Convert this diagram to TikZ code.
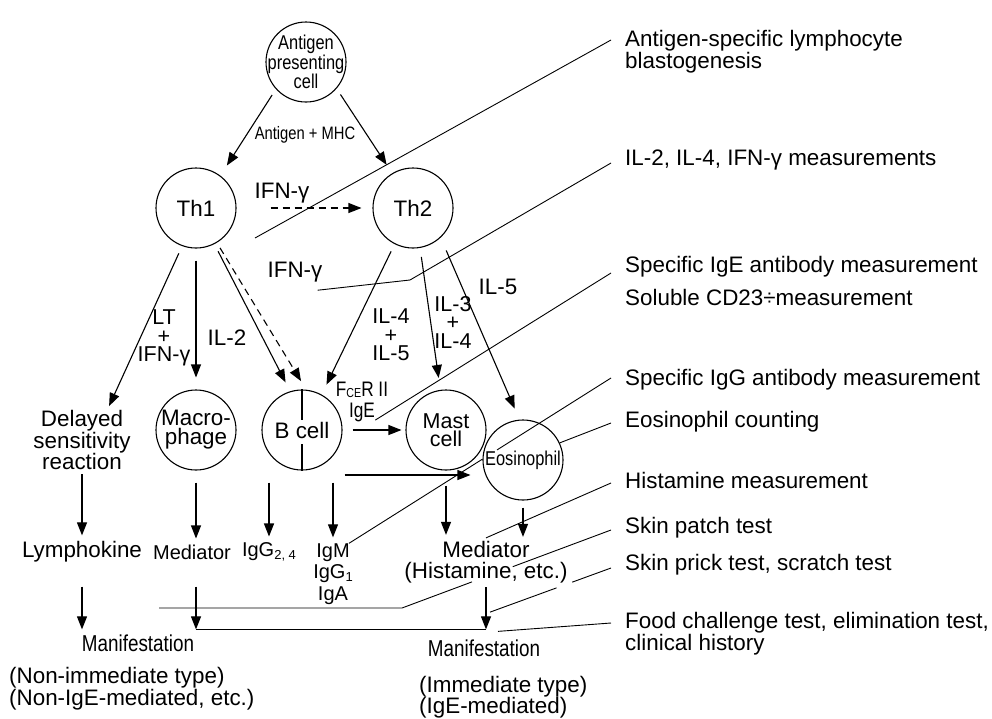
\documentclass[tikz,border=0pt]{standalone}
\usepackage{fontspec}
\setmainfont{Liberation Sans}
\newfontfamily\narrowfont[FakeStretch=0.82]{Liberation Sans}
\usetikzlibrary{arrows.meta,calc}
\newcommand{\bigf}{\fontsize{22.4}{21}\selectfont}
\newcommand{\midf}[1]{\fontsize{20}{#1}\selectfont}
\newcommand{\narf}[2]{\fontsize{#1}{#2}\narrowfont}
\newcommand{\lowsub}[1]{\raisebox{-3pt}{\fontsize{13}{13}\selectfont #1}}
\begin{document}
\begin{tikzpicture}[x=1pt,y=-1pt]
\tikzset{every node/.style={font=\bigf, inner sep=0pt},
  cellnode/.style={draw, circle, line width=1.1pt, minimum size=80pt, inner sep=-8pt, align=center},
  lbl/.style={align=center},
  side/.style={anchor=west, align=left},
  arr/.style={-{Triangle[length=13pt,width=10pt]}, line width=1.1pt},
  lead/.style={line width=0.9pt}}
\useasboundingbox (0,0) rectangle (992,718);

\node[cellnode, font=\narf{20}{17.5}] (apc) at (306,62) {Antigen\\presenting\\cell};
\node[cellnode] (th1) at (196,208) {Th1};
\node[cellnode] (th2) at (413,208) {Th2};
\node[cellnode, font=\fontsize{22.4}{19}\selectfont] (macro) at (196,430) {Macro-\\phage};
\node[cellnode] (bcell) at (302,430) {B cell};
\node[cellnode, font=\fontsize{21.5}{18.5}\selectfont] (mast) at (446,430) {Mast\\cell};
\node[cellnode, font=\narf{20}{20}] (eos) at (523,460) {Eosinophil};

\node[font=\narf{18}{18}] (agmhc) at (305,135) {Antigen + MHC};
\node (ifna) at (282,193) {IFN-γ};
\node (ifnb) at (295,272) {IFN-γ};
\node[lbl, font=\fontsize{21.5}{18.5}\selectfont] (lt) at (164,338) {LT\\+\\IFN-γ};
\node (il2) at (227,338) {IL-2};
\node[lbl, font=\fontsize{21.5}{18.5}\selectfont] (il45) at (391,335) {IL-4\\+\\IL-5};
\node[lbl, font=\fontsize{21.5}{18.5}\selectfont] (il34) at (453,322) {IL-3\\+\\IL-4};
\node (il5) at (498,287) {IL-5};
\node[lbl, font=\fontsize{22.4}{20.5}\selectfont] (delayed) at (82,440) {Delayed\\sensitivity\\reaction};
\node[lbl, font=\narf{21}{21}] (fcer) at (362,402) {F\raisebox{-1pt}{\fontsize{13}{13}\selectfont CE}R II\\IgE};

\node (lymph) at (82,552) {Lymphokine};
\node[font=\midf{20}] (medl) at (192,552) {Mediator};
\node[font=\midf{20}] (igg24) at (269,552) {IgG\lowsub{2, 4}};
\node[lbl, font=\midf{21.5}] (igm) at (333,574) {IgM\\IgG\lowsub{1}\\IgA};
\node[lbl] (medr) at (486,562) {Mediator\\(Histamine, etc.)};
\node[font=\narf{23}{23}] (manl) at (138,643) {Manifestation};
\node[font=\narf{23}{23}] (manr) at (484,648) {Manifestation};
\node[side, font=\fontsize{22.4}{22}\selectfont] (nonimm) at (9,689) {(Non-immediate type)\\(Non-IgE-mediated, etc.)};
\node[side] (imm) at (419,697) {(Immediate type)\\(IgE-mediated)};

\node[side, font=\fontsize{22.4}{20}\selectfont] (r1) at (625,52) {Antigen-specific lymphocyte\\blastogenesis};
\node[side] (r2) at (625,160) {IL-2, IL-4, IFN-γ measurements};
\node[side] (r3) at (625,267) {Specific IgE antibody measurement};
\node[side] (r4) at (625,297) {Soluble CD23÷measurement};
\node[side] (r5) at (625,380) {Specific IgG antibody measurement};
\node[side] (r6) at (625,422) {Eosinophil counting};
\node[side] (r7) at (625,480) {Histamine measurement};
\node[side] (r8) at (625,528) {Skin patch test};
\node[side] (r9) at (625,565) {Skin prick test, scratch test};
\node[side, font=\fontsize{22.4}{22}\selectfont] (r10) at (625,634) {Food challenge test, elimination test,\\clinical history};

\draw[line width=1.1pt] (bcell.north) -- ++(0,31);
\draw[line width=1.1pt] (bcell.south) -- ++(0,-27);

\draw[arr, shorten <=7pt, shorten >=12pt] (apc.222) -- (th1.53);
\draw[arr, shorten <=7pt, shorten >=10pt] (apc.319) -- (th2.121);
\draw[arr, dash pattern=on 7pt off 5pt, shorten <=34pt, shorten >=11pt] (th1) -- (th2);
\draw[arr, shorten <=8pt, shorten >=4pt] (th1.250) -- (delayed.50);
\draw[arr, shorten <=12pt, shorten >=12pt] (th1) -- (macro);
\draw[arr, shorten <=8pt, shorten >=10pt] (th1.297) -- (bcell.107);
\draw[arr, dash pattern=on 7pt off 5pt, shorten <=6pt, shorten >=10pt] (th1.301) -- (bcell.84);
\draw[arr, shorten <=8pt, shorten >=11pt] (th2.243) -- (bcell.61);
\draw[arr, shorten <=9pt, shorten >=12pt] (th2.280) -- (mast.98);
\draw[arr, shorten <=14pt, shorten >=12pt] (th2.313) -- (eos.95);
\draw[arr, shorten <=10pt, shorten >=4pt] (bcell) -- (mast);
\draw[arr] ($(bcell.east)+(2,45)$) -- ($(eos.west)+(-12,15)$);

\draw[arr, shorten <=4pt, shorten >=6pt] (delayed) -- (lymph);
\draw[arr, shorten <=12pt, shorten >=6pt] (macro.south) -- (macro.south |- medl.north);
\draw[arr, shorten >=6pt] ($(igg24.north |- bcell.south)+(0,12)$) -- (igg24.north);
\draw[arr, shorten >=6pt] ($(igm.north |- bcell.south)+(0,12)$) -- (igm.north);
\draw[arr, shorten <=15pt, shorten >=6pt] (mast.south) -- (mast.south |- medr.north);
\draw[arr, shorten <=7pt, shorten >=4pt] (eos.south) -- (eos.south |- medr.north);
\draw[arr, shorten <=24pt, shorten >=5pt] (lymph.south) -- (lymph.south |- manl.north);
\draw[arr, shorten <=27pt, shorten >=5pt] (macro.south |- medl.south) -- (macro.south |- manl.north);
\draw[arr, shorten <=4pt, shorten >=10pt] (medr.south) -- (medr.south |- manr.north);

\coordinate (c1) at (255,238);
\draw[lead] (c1) -- ($(r1.west)+(-14,-12)$);
\coordinate (c2) at (410,280);
\draw[lead] ($(ifnb.south east)+(-5,8)$) -- (c2) -- ($(r2.west)+(-14,3)$);
\draw[lead] ($(fcer.south east)+(-13,-2)$) -- ($(r3.west)+(-14,6)$);
\coordinate (s4) at ($(igm.north east)+(-4,0)$);
\coordinate (e4) at ($(r5.west)+(-14,-2)$);
\draw[lead] (s4) -- ($(s4)!0.51!(e4)$);
\draw[lead] ($(s4)!0.565!(e4)$) -- (e4);
\draw[lead] (eos.25) -- ($(r6.west)+(-14,1)$);
\draw[lead] ([yshift=3pt]medr.north) -- ($(r7.west)+(-14,3)$);
\coordinate (c7a) at (159,608);
\coordinate (c7b) at (402,608);
\coordinate (e7) at ($(r8.west)+(-14,2)$);
\draw[lead] (c7a) -- (c7b) -- ($(c7b)!0.335!(e7)$);
\draw[lead] ($(c7b)!0.53!(e7)$) -- (e7);
\coordinate (s8) at ($(medr.south)+(4,29)$);
\coordinate (e8) at ($(r9.west)+(-14,3)$);
\draw[lead] (s8) -- ($(s8)!0.55!(e8)$);
\draw[lead] ($(s8)!0.68!(e8)$) -- (e8);
\draw[lead] ($(macro.south |- manl.north)+(0,-5)$) -- ($(medr.south |- manr.north)+(0,-10)$);
\draw[lead] ($(medr.south |- manr.north)+(12,-8)$) -- ($(r10.west)+(-14,-11)$);
\end{tikzpicture}
\end{document}
